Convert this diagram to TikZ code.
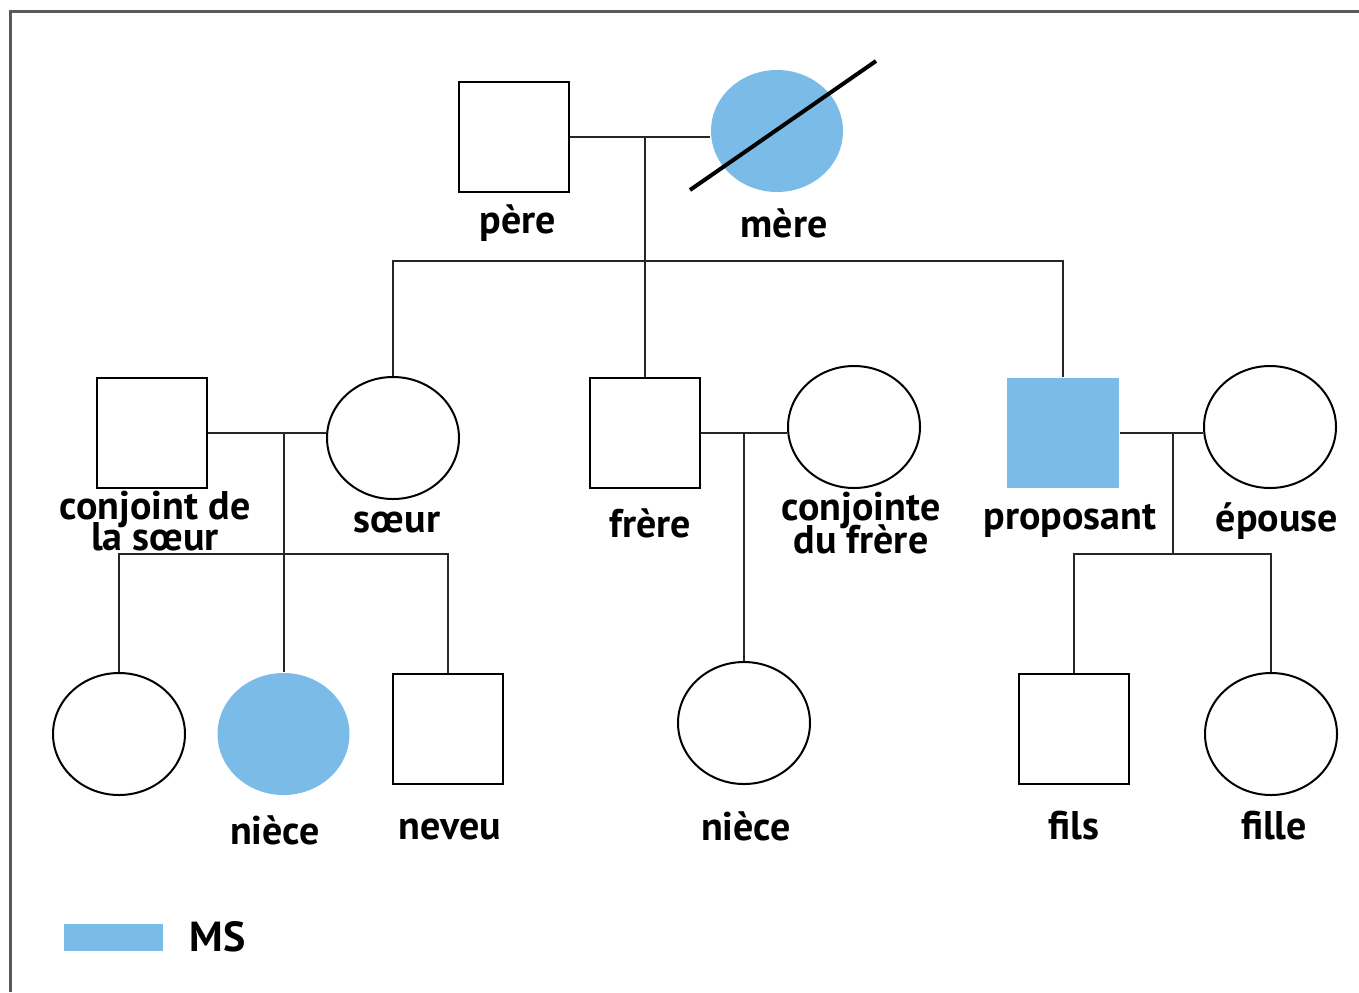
\documentclass[tikz,border=0pt]{standalone}
\usepackage{fontspec}
\setmainfont{PT Sans}
\usetikzlibrary{shapes.geometric}
\definecolor{msblue}{RGB}{122,187,231}
\definecolor{framegray}{RGB}{90,90,90}
\tikzset{
  male/.style={draw=black, line width=1pt, rectangle, minimum width=55pt, minimum height=55pt, inner sep=0pt},
  female/.style={draw=black, line width=1pt, ellipse, minimum width=66pt, minimum height=61pt, inner sep=0pt},
  affected/.style={fill=msblue, draw=none},
  lbl/.style={font=\fontsize{20}{15}\selectfont\bfseries, align=center, inner sep=0pt},
  link/.style={line width=1pt, black!85},
}
\begin{document}
\begin{tikzpicture}[x=0.5pt,y=-0.5pt]
\useasboundingbox (0,0) rectangle (1359,992);
% frame
\draw[framegray, line width=1.5pt] (10,992) -- (10,11) -- (1359,11);

% generation I
\node[male] (pere) at (514,136.5) {};
\node[female, affected] (mere) at (777,131) {};
\node[lbl] (lpere) at (518,223) {père};
\node[lbl] (lmere) at (784,223) {mère};

% generation II
\node[male] (conj) at (151.5,432.5) {};
\node[female] (soeur) at (393,438) {};
\node[male] (frere) at (645,433) {};
\node[female] (conjf) at (854,427) {};
\node[male, affected, minimum width=56pt] (prop) at (1062.5,433) {};
\node[female] (epouse) at (1270,427) {};

\node[lbl] (lconj) at (155,521) {conjoint de\\[-3.5pt]la sœur};
\node[lbl] (lsoeur) at (397,522) {sœur};
\node[lbl] (lfrere) at (650,523) {frère};
\node[lbl] (lconjf) at (861,523) {conjointe\\[-3.5pt]du frère};
\node[lbl] (lprop) at (1070,521) {proposant};
\node[lbl] (lepouse) at (1277,521) {épouse};

% generation III
\node[female] (c1) at (119,734) {};
\node[female, affected] (niece1) at (283.5,734) {};
\node[male] (neveu) at (448,729) {};
\node[female] (niece2) at (744,723) {};
\node[male] (fils) at (1074,729) {};
\node[female] (fille) at (1271,734) {};

\node[lbl] (lniece1) at (275,830) {nièce};
\node[lbl] (lneveu) at (450,829) {neveu};
\node[lbl] (lniece2) at (746,826) {nièce};
\node[lbl] (lfils) at (1074,826) {fils};
\node[lbl] (lfille) at (1274,826) {fille};

% connectors
\coordinate (m1) at (645,136);
\coordinate (sib) at (645,261);
\draw[link] (pere.east) -- (mere.west |- pere.east);
\draw[link] (m1) -- (sib) -- (frere.north);
\draw[link] (soeur.north) |- (sib) -| (prop.north);

\coordinate (m2) at (284,433);
\coordinate (k2) at (284,554);
\draw[link] (conj.east) -- (soeur.west |- conj.east);
\draw[link] (m2) -- (k2) -- (niece1.north -| k2);
\draw[link] (c1.north) |- (k2) -| (neveu.north);

\coordinate (m3) at (744,433);
\draw[link] (frere.east) -- (conjf.west |- frere.east);
\draw[link] (m3) -- (niece2.north);

\coordinate (m4) at (1173,433);
\coordinate (k4) at (1173,554);
\draw[link] (prop.east) -- (epouse.west |- prop.east);
\draw[link] (m4) -- (k4);
\draw[link] (fils.north) |- (k4) -| (fille.north);

% deceased mark
\coordinate (d1) at (690,190);
\coordinate (d2) at (876,61);
\draw[line width=2pt, black] (d1) -- (d2);

% legend
\node[fill=msblue, minimum width=49.5pt, minimum height=13.5pt, inner sep=0pt] (leg) at (113.5,937) {};
\node[lbl, anchor=west, font=\fontsize{21}{21}\selectfont\bfseries] (lms) at (189,937) {MS};
\end{tikzpicture}
\end{document}
